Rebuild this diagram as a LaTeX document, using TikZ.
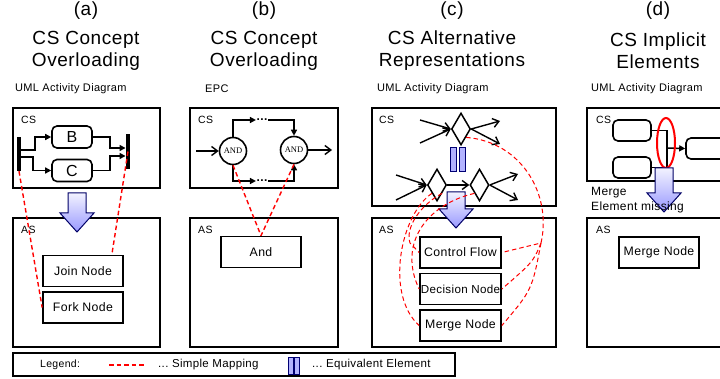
\documentclass[tikz,border=0pt]{standalone}
\usepackage{fontspec}
\setmainfont{Liberation Sans}[LetterSpace=3]
\newfontfamily\andfont{Liberation Serif}
\usetikzlibrary{shapes.geometric, arrows.meta}

\newcommand{\bigdown}[3]{\draw[big] (#1-9,#2) -- (#1+9,#2) -- (#1+9,#3-19) -- (#1+17,#3-19) -- (#1,#3) -- (#1-17,#3-19) -- (#1-9,#3-19) -- cycle;}

\begin{document}
\begin{tikzpicture}[x=1pt, y=-1pt,
    frame/.style={draw, line width=1.7pt},
    box/.style={draw, line width=1.7pt, minimum width=80pt, minimum height=31pt, inner sep=0pt, font=\fontsize{12.3}{14}\selectfont},
    rbox/.style={draw, line width=1.6pt, rounded corners=5pt, minimum width=40pt, minimum height=22pt, inner sep=0pt, font=\fontsize{16}{16}\selectfont},
    bar/.style={fill=black, minimum width=4.5pt, inner sep=0pt},
    flow/.style={line width=1.5pt, -{Triangle[length=6pt,width=6pt]}},
    barb/.style={line width=1.4pt, -{Straight Barb[length=6pt,width=9pt]}},
    andgate/.style={draw, fill=white, circle, line width=1.6pt, minimum size=27pt, inner sep=0pt, font=\andfont\fontsize{8.5}{8.5}\selectfont},
    dots/.style={inner sep=0.5pt, font=\bfseries\fontsize{12}{12}\selectfont},
    dia/.style={draw, diamond, line width=1.5pt, minimum width=19pt, minimum height=32pt, inner sep=0pt},
    eqv/.style={draw=blue!45!black, fill=blue!30!white, line width=1pt, minimum width=6pt, minimum height=24pt, inner sep=0pt},
    map/.style={draw=red, line width=1.4pt, dash pattern=on 4.5pt off 3pt},
    big/.style={draw=blue!40!black, line width=1pt, top color=blue!5!white, bottom color=blue!40!white},
    title/.style={font=\fontsize{19}{22}\selectfont, align=center},
    head/.style={font=\fontsize{11}{13}\selectfont, anchor=west, inner sep=0pt},
    tag/.style={font=\fontsize{10.5}{12}\selectfont, anchor=west, inner sep=0pt}]
\useasboundingbox (0,0) rectangle (720,379);
\clip (0,0) rectangle (720,379);

% titles
\node[title] (ta) at (86,11) {(a)};
\node[title] (tb) at (264,11) {(b)};
\node[title] (tc) at (452,11) {(c)};
\node[title] (td) at (658,11) {(d)};
\node[title] (na) at (86,51) {CS Concept\\Overloading};
\node[title] (nb) at (264,51) {CS Concept\\Overloading};
\node[title] (nc) at (452,51) {CS Alternative\\Representations};
\node[title] (nd) at (658,51) {CS Implicit\\Elements};

\node[head] (ha) at (15,89) {UML Activity Diagram};
\node[head] (hb) at (205,89) {EPC};
\node[head] (hc) at (377,89) {UML Activity Diagram};
\node[head] (hd) at (591,89) {UML Activity Diagram};

% frames
\draw[frame] (13,108) rectangle (160,188);
\draw[frame] (13,218) rectangle (160,347);
\draw[frame] (190,108) rectangle (338,188);
\draw[frame] (190,218) rectangle (338,347);
\draw[frame] (372,108) rectangle (556,206);
\draw[frame] (372,218) rectangle (556,347);
\draw[frame] (587,108) rectangle (730,181);
\draw[frame] (587,218) rectangle (730,347);
\node[tag] (csa) at (21,120) {CS};
\node[tag] (asa) at (21,230) {AS};
\node[tag] (csb) at (198,120) {CS};
\node[tag] (asb) at (198,230) {AS};
\node[tag] (csc) at (379,120) {CS};
\node[tag] (asc) at (379,230) {AS};
\node[tag] (csd) at (596,120) {CS};
\node[tag] (asd) at (596,230) {AS};

% (a)
\node[bar, minimum height=34pt] (fork) at (19,154) {};
\node[bar, minimum height=35pt] (join) at (128,151.5) {};
\node[rbox] (B) at (72,137) {B};
\node[rbox] (C) at (72,170.5) {C};
\draw[flow] ([yshift=4pt]fork.east) -| (35,137) -- (B.west);
\draw[flow] ([yshift=-3pt]fork.east) -| (33,170.5) -- (C.west);
\draw[flow] (B.east) -| (110,148) -- ([yshift=3.5pt]join.west);
\draw[flow] (C.east) -| (110,156) -- ([yshift=-4.5pt]join.west);
\bigdown{77}{193}{232}
\node[box] (jn) at (83,271) {Join Node};
\node[box] (fn) at (83,307.5) {Fork Node};
\draw[map] (fork.south) -- (fn.west);
\draw[map] (join.center) -- ([xshift=-12pt]jn.north east);

% (b)
\node[andgate] (and1) at (233,151) {AND};
\node[andgate] (and2) at (294,150) {AND};
\coordinate (ein) at (196,151);
\coordinate (eout) at (332,150);
\draw[barb] (ein) -- (and1);
\draw[barb] (and2) -- (eout);
\node[dots] (d1) at (262,120) {...};
\node[dots] (d2) at (262,181) {...};
\draw[flow] (and1.north) |- (d1.west);
\draw[flow] (d1.east) -| (and2.north);
\draw[flow] (and1.south) |- (d2.west);
\draw[flow] (d2.east) -| (and2.south);
\node[box] (andb) at (261,252) {And};
\draw[map] (and1.south) -- (andb.north);
\draw[map] (and2.south) -- (andb.north);

% (c)
\node[dia] (dtop) at (461,129) {};
\node[dia] (dm1) at (437,185) {};
\node[dia] (dm2) at (479.5,185) {};
\coordinate (c1) at (420,120);
\coordinate (c2) at (420,143);
\coordinate (c3) at (500,121);
\coordinate (c4) at (500,144);
\coordinate (c5) at (396,175);
\coordinate (c6) at (396,200);
\coordinate (c7) at (518,174);
\coordinate (c8) at (518,200);
\draw[barb] (c1) -- (dtop.west);
\draw[barb] (c2) -- (dtop.west);
\draw[barb] (dtop.east) -- (c3);
\draw[barb] (dtop.east) -- (c4);
\draw[barb] (c5) -- (dm1.west);
\draw[barb] (c6) -- (dm1.west);
\draw[barb] (dm1.east) -- (dm2.west);
\draw[barb] (dm2.east) -- (c7);
\draw[barb] (dm2.east) -- (c8);
\node[eqv] (eq1) at (453.5,160) {};
\node[eqv] (eq2) at (462.5,160) {};
\bigdown{456}{192}{228}
\node[box, minimum width=81pt] (cf) at (460.5,252.5) {Control Flow};
\node[box, minimum width=81pt, font=\fontsize{11.6}{14}\selectfont] (dn) at (460.5,289) {Decision Node};
\node[box, minimum width=81pt] (mn) at (460.5,325.5) {Merge Node};
\coordinate (fan) at (541,243);
\coordinate (kink) at (410,243);
\draw[map, line width=1pt] (dtop.south east) .. controls (522,142) and (552,195) .. (fan) -- (cf.east);
\draw[map, line width=1pt] (fan) .. controls (533,262) .. (dn.east);
\draw[map, line width=1pt] (fan) .. controls (532,290) .. (mn.east);
\draw[map, line width=1pt] (dm1.south west) .. controls (400,215) and (385,295) .. (mn.west);
\draw[map, line width=1pt] (dm1.south east) .. controls (420,205) and (405,228) .. (kink) -- (cf.west);
\draw[map, line width=1pt] (dm2.south west) .. controls (425,205) and (398,245) .. (dn.west);

% (d)
\node[rbox, minimum width=38pt, minimum height=21pt] (m1) at (632,130.5) {};
\node[rbox, minimum width=38pt, minimum height=21pt] (m2) at (632,167.5) {};
\node[rbox, minimum width=44pt, minimum height=21pt] (m3) at (708,148.5) {};
\coordinate (mj) at (667,148);
\draw[line width=1.5pt] (m1.east) -| (mj);
\draw[line width=1.5pt] (m2.east) -| (mj);
\draw[flow] (mj) -- (m3.west);
\node[draw=red, ellipse, line width=2pt, minimum width=18pt, minimum height=50pt, inner sep=0pt] (miss) at (666,143) {};
\bigdown{664}{168}{212}
\node[font=\fontsize{12}{15}\selectfont, align=left, anchor=west, inner sep=0pt] (mtxt) at (591,200.5) {Merge\\Element missing};
\node[box] (mnd) at (659,252.5) {Merge Node};

% legend
\draw[frame, line width=1.2pt] (13,353) rectangle (455,376);
\node[tag] (lg) at (40,365) {Legend:};
\coordinate (la) at (109,365);
\coordinate (lb) at (144,365);
\draw[map] (la) -- (lb);
\node[tag, font=\fontsize{11.5}{12}\selectfont] (l1) at (158,365) {...\ Simple Mapping};
\node[eqv, minimum width=5pt, minimum height=17pt] (le1) at (291,365.5) {};
\node[eqv, minimum width=5pt, minimum height=17pt] (le2) at (297,365.5) {};
\node[tag, font=\fontsize{11.5}{12}\selectfont] (l2) at (312,365) {...\ Equivalent Element};
\end{tikzpicture}
\end{document}
